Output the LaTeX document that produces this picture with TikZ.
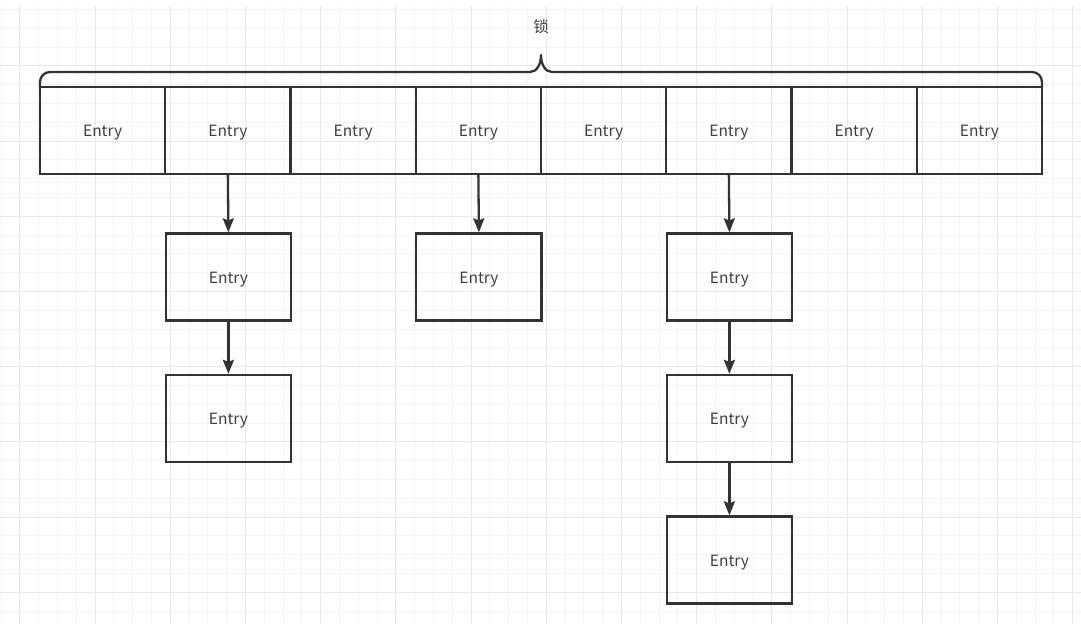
\documentclass[tikz,border=0pt]{standalone}
\usepackage{fontspec}
\setmainfont{Noto Sans CJK SC}
\usetikzlibrary{arrows.meta}
\definecolor{ink}{HTML}{333333}
\definecolor{txt}{HTML}{404040}
\definecolor{gminor}{HTML}{F4F4F4}
\definecolor{gmajor}{HTML}{E8E8E8}
\tikzset{
  cell/.style={draw=ink, line width=2.3pt, minimum width=125.25pt, minimum height=87pt, inner sep=0pt, text=txt, font=\fontsize{15.5}{17}\selectfont, text depth=0pt},
  link/.style={draw=ink, line width=2.3pt, -{Stealth[length=14pt,width=11pt,inset=2pt]}},
  bracestyle/.style={draw=ink, line width=2.3pt, line join=round},
}
\begin{document}
\begin{tikzpicture}[x=1pt,y=1pt]
\useasboundingbox (0,0) rectangle (1081,-624);
\fill[white] (0,0) rectangle (1081,-624);
% grid
\foreach \k in {-1,...,57} {
  \draw[gminor, line width=1pt] ({19.8+18.8*\k},-6) -- ({19.8+18.8*\k},-624);
}
\foreach \k in {0,...,33} {
  \draw[gminor, line width=1pt] (0,{-9.4-18.8*\k}) -- (1081,{-9.4-18.8*\k});
}
\foreach \k in {0,...,14} {
  \draw[gmajor, line width=1pt] ({19.8+75.2*\k},-6) -- ({19.8+75.2*\k},-624);
}
\foreach \k in {0,...,7} {
  \draw[gmajor, line width=1pt] (0,{-65.8-75.2*(\k-0)}) -- (1081,{-65.8-75.2*(\k-0)});
}
% top row
\foreach \i in {0,...,7} {
  \node[cell] (t\i) at ({40+125.25*(\i+0.5)},-130.5) {\raisebox{-1pt}{Entry}};
}
% children
\node[cell] (a1) at (228.4,-277) {\raisebox{-1pt}{Entry}};
\node[cell] (a2) at (228.4,-418.5) {\raisebox{-1pt}{Entry}};
\node[cell] (b1) at (478.9,-277) {\raisebox{-1pt}{Entry}};
\node[cell] (c1) at (729.4,-277) {\raisebox{-1pt}{Entry}};
\node[cell] (c2) at (729.4,-418.5) {\raisebox{-1pt}{Entry}};
\node[cell] (c3) at (729.4,-560) {\raisebox{-1pt}{Entry}};
\draw[link] (t1.south) -- (a1.north);
\draw[link] (a1.south) -- (a2.north);
\draw[link] (t3.south) -- (b1.north);
\draw[link] (t5.south) -- (c1.north);
\draw[link] (c1.south) -- (c2.north);
\draw[link] (c2.south) -- (c3.north);
% brace
\coordinate (bl) at (40,-87);
\coordinate (br) at (1042,-87);
\coordinate (tip) at (541,-55);
\draw[bracestyle] (bl) -- (40,-82) to[out=90,in=180] (50,-72) -- (530,-72)
  .. controls (537,-72) and (541,-64) .. (tip)
  .. controls (541,-64) and (545,-72) .. (552,-72) -- (1032,-72)
  to[out=0,in=90] (1042,-82) -- (br);
\node[text=txt, font=\fontsize{15.5}{17}\selectfont] (lock) at (541,-27) {锁};
\end{tikzpicture}
\end{document}
